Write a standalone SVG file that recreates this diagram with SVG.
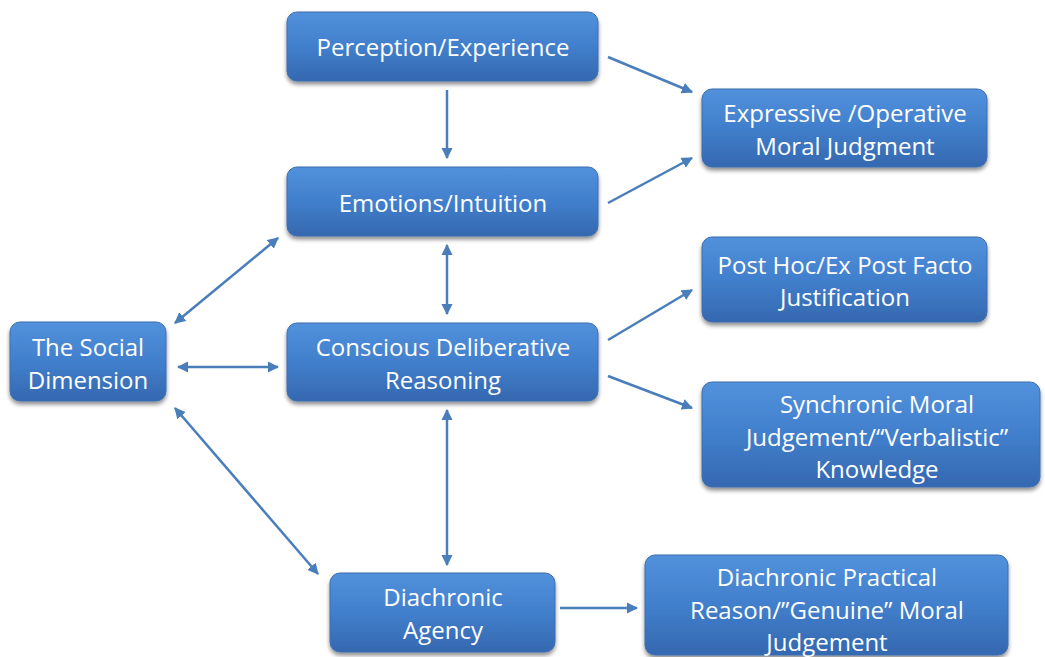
<svg xmlns="http://www.w3.org/2000/svg" width="1045" height="657" viewBox="0 0 1045 657">
<defs>
<linearGradient id="g" x1="0" y1="0" x2="0" y2="1">
<stop offset="0" stop-color="#5291dc"/>
<stop offset="0.5" stop-color="#417fcc"/>
<stop offset="1" stop-color="#3568b0"/>
</linearGradient>
<filter id="sh" x="-10%" y="-10%" width="120%" height="130%">
<feGaussianBlur in="SourceAlpha" stdDeviation="2"/>
<feOffset dx="0" dy="3" result="b"/>
<feComponentTransfer><feFuncA type="linear" slope="0.45"/></feComponentTransfer>
<feMerge><feMergeNode/><feMergeNode in="SourceGraphic"/></feMerge>
</filter>
<marker id="ah" viewBox="0 0 10 10" refX="9" refY="5" markerWidth="4.5" markerHeight="4.5" orient="auto-start-reverse" markerUnits="strokeWidth">
<path d="M0,0 L10,5 L0,10 z" fill="#4a7ebb"/>
</marker>
</defs>
<style>
.box{fill:url(#g);stroke:#3d6fae;stroke-width:1;filter:url(#sh)}
.t{font-family:"Open Sans","Liberation Sans",sans-serif;font-size:24px;fill:#ffffff;text-anchor:middle}
.c{stroke:#4a7ebb;stroke-width:2.5;fill:none}
</style>
<rect width="1045" height="657" fill="#ffffff"/>
<g id="connectors">
<line class="c" x1="608" y1="57" x2="692" y2="92" marker-end="url(#ah)"/>
<line class="c" x1="447" y1="90" x2="447" y2="158" marker-end="url(#ah)"/>
<line class="c" x1="608" y1="203" x2="692" y2="158" marker-end="url(#ah)"/>
<line class="c" x1="447" y1="245" x2="447" y2="314" marker-start="url(#ah)" marker-end="url(#ah)"/>
<line class="c" x1="278" y1="238" x2="175" y2="323" marker-start="url(#ah)" marker-end="url(#ah)"/>
<line class="c" x1="178" y1="367" x2="278" y2="367" marker-start="url(#ah)" marker-end="url(#ah)"/>
<line class="c" x1="175" y1="408" x2="318" y2="574" marker-start="url(#ah)" marker-end="url(#ah)"/>
<line class="c" x1="447" y1="410" x2="447" y2="565" marker-start="url(#ah)" marker-end="url(#ah)"/>
<line class="c" x1="608" y1="340" x2="692" y2="290" marker-end="url(#ah)"/>
<line class="c" x1="608" y1="376" x2="692" y2="408" marker-end="url(#ah)"/>
<line class="c" x1="560" y1="608" x2="637" y2="608" marker-end="url(#ah)"/>
</g>
<g id="perception">
<rect class="box" x="287" y="12" width="311" height="69" rx="10"/>
<text class="t" x="443" y="56">Perception/Experience</text>
</g>
<g id="emotions">
<rect class="box" x="287" y="167" width="311" height="69" rx="10"/>
<text class="t" x="443" y="212">Emotions/Intuition</text>
</g>
<g id="conscious">
<rect class="box" x="287" y="323" width="311" height="78" rx="10"/>
<text class="t" x="443" y="356">Conscious Deliberative</text>
<text class="t" x="443" y="389">Reasoning</text>
</g>
<g id="social">
<rect class="box" x="10" y="322" width="156" height="79" rx="10"/>
<text class="t" x="88" y="356">The Social</text>
<text class="t" x="88" y="389">Dimension</text>
</g>
<g id="agency">
<rect class="box" x="330" y="573" width="225" height="79" rx="10"/>
<text class="t" x="443" y="606">Diachronic</text>
<text class="t" x="443" y="639">Agency</text>
</g>
<g id="expressive">
<rect class="box" x="702" y="89" width="285" height="78" rx="10"/>
<text class="t" x="845" y="122">Expressive /Operative</text>
<text class="t" x="845" y="155">Moral Judgment</text>
</g>
<g id="posthoc">
<rect class="box" x="702" y="237" width="285" height="85" rx="10"/>
<text class="t" x="845" y="274">Post Hoc/Ex Post Facto</text>
<text class="t" x="845" y="306">Justification</text>
</g>
<g id="synchronic">
<rect class="box" x="702" y="382" width="338" height="105" rx="10"/>
<text class="t" x="877" y="413">Synchronic Moral</text>
<text class="t" x="877" y="446">Judgement/“Verbalistic”</text>
<text class="t" x="877" y="478">Knowledge</text>
</g>
<g id="practical">
<rect class="box" x="645" y="555" width="363" height="100" rx="10"/>
<text class="t" x="827" y="586">Diachronic Practical</text>
<text class="t" x="827" y="619">Reason/”Genuine” Moral</text>
<text class="t" x="827" y="651">Judgement</text>
</g>
</svg>
